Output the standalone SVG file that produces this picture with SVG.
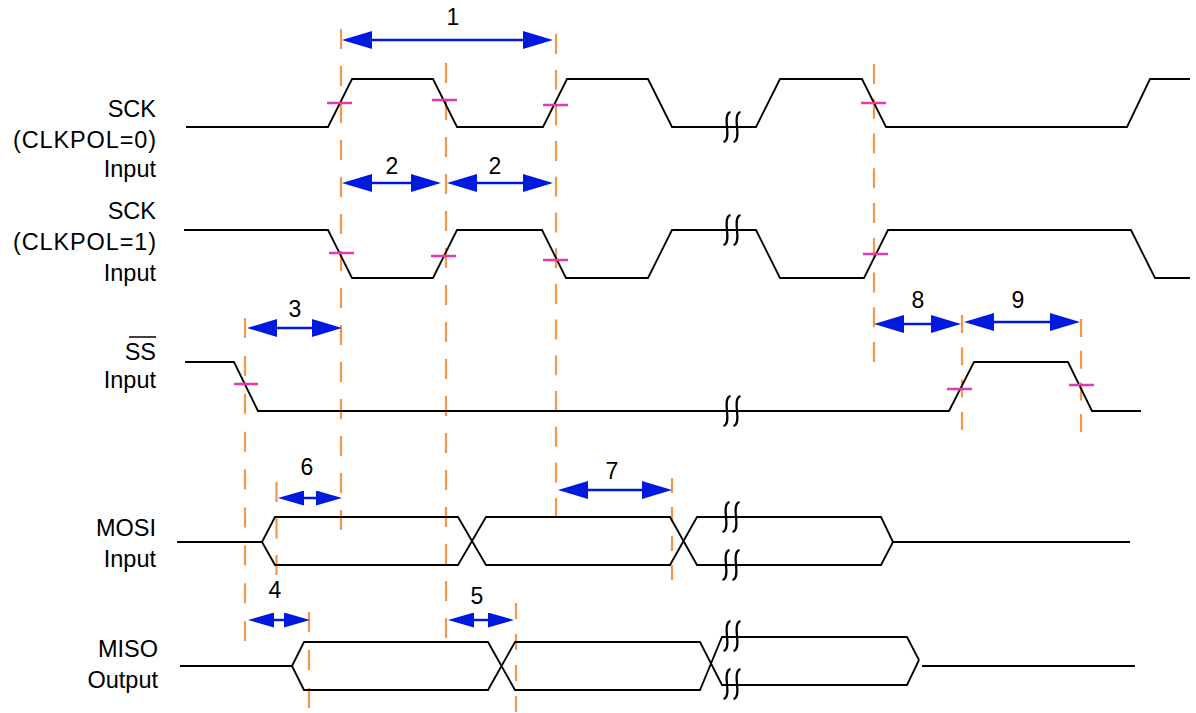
<svg xmlns="http://www.w3.org/2000/svg" width="1196" height="713" viewBox="0 0 1196 713">
<style>
.w{fill:none;stroke:#000;stroke-width:1.8;stroke-linejoin:miter}
.d{stroke:#F79646;stroke-width:2.2;fill:none}
.t{stroke:#E23AAE;stroke-width:2.5}
.a{stroke:#0019E0;stroke-width:2.5;marker-start:url(#ah);marker-end:url(#ah)}
.s{stroke:#0019E0;stroke-width:2.5;marker-start:url(#as);marker-end:url(#as)}
.brk{fill:none;stroke:#000;stroke-width:2.2}
.lbl{font-family:"Liberation Sans",Arial,Helvetica,sans-serif;font-size:23.5px;fill:#000;text-anchor:end}
.num{font-family:"Liberation Sans",Arial,Helvetica,sans-serif;font-size:23px;fill:#000;text-anchor:middle}
</style>
<defs>
<marker id="ah" viewBox="0 0 30 18" refX="10" refY="9" markerWidth="30" markerHeight="18" markerUnits="userSpaceOnUse" orient="auto-start-reverse"><path d="M0,0 L30,9 L0,18 z" fill="#0019E0"/></marker>
<marker id="as" viewBox="0 0 26 15" refX="10" refY="7.5" markerWidth="26" markerHeight="15" markerUnits="userSpaceOnUse" orient="auto-start-reverse"><path d="M0,0 L26,7.5 L0,15 z" fill="#0019E0"/></marker>
<path id="bk" class="brk" d="M3.5,-15 C-1.5,-14 -0.5,-5 0,0 C0.5,5 1.5,14 -3.5,15"/>
</defs>

<g id="labels">
<text class="lbl" x="156" y="117">SCK</text>
<text class="lbl" x="156" y="148" textLength="143" lengthAdjust="spacing">(CLKPOL=0)</text>
<text class="lbl" x="156" y="177">Input</text>
<text class="lbl" x="156" y="219">SCK</text>
<text class="lbl" x="156" y="250" textLength="143" lengthAdjust="spacing">(CLKPOL=1)</text>
<text class="lbl" x="156" y="281">Input</text>
<text class="lbl" x="156" y="360">SS</text>
<line x1="129" y1="337" x2="156" y2="337" stroke="#000" stroke-width="1.5"/>
<text class="lbl" x="156" y="388">Input</text>
<text class="lbl" x="156" y="536">MOSI</text>
<text class="lbl" x="156" y="567">Input</text>
<text class="lbl" x="158" y="657">MISO</text>
<text class="lbl" x="158" y="688">Output</text>
</g>

<g id="guides">
<line class="d" stroke-dasharray="20 17" x1="341" y1="29" x2="341" y2="530"/>
<line class="d" stroke-dasharray="20 17" x1="446" y1="63" x2="446" y2="638"/>
<line class="d" stroke-dasharray="20 15.7" x1="556" y1="34" x2="556" y2="518"/>
<line class="d" stroke-dasharray="20 14.75" x1="874" y1="64" x2="874" y2="362"/>
<line class="d" stroke-dasharray="20 17.9" x1="245" y1="318" x2="245" y2="641"/>
<line class="d" stroke-dasharray="18 14.3" x1="962" y1="315" x2="962" y2="430"/>
<line class="d" stroke-dasharray="18 13.7" x1="1081" y1="319" x2="1081" y2="432"/>
<line class="d" stroke-dasharray="20 16.5" x1="276.5" y1="482" x2="276.5" y2="575"/>
<line class="d" stroke-dasharray="15 14" x1="672" y1="478" x2="672" y2="580"/>
<line class="d" stroke-dasharray="20 18" x1="309" y1="612" x2="309" y2="708"/>
<line class="d" stroke-dasharray="16 15" x1="516" y1="603" x2="516" y2="712"/>
</g>

<g id="sck0">
<path class="w" d="M186,127 H328 L352,79 H433 L457,127 H543 L567,79 H648 L672,127 H756 L780,79 H862 L886,127 H1127 L1150,79 H1190"/>
<use href="#bk" x="727" y="127"/><use href="#bk" x="737" y="127"/>
<line class="t" x1="327" y1="103" x2="352" y2="103"/>
<line class="t" x1="432" y1="100" x2="457" y2="100"/>
<line class="t" x1="543" y1="105" x2="568" y2="105"/>
<line class="t" x1="861" y1="103" x2="886" y2="103"/>
</g>

<g id="sck1">
<path class="w" d="M184,230 H328 L352,278 H433 L457,230 H542 L566,278 H648 L672,230 H756 L780,278 H864 L888,230 H1131 L1155,278 H1190"/>
<use href="#bk" x="727" y="230"/><use href="#bk" x="737" y="230"/>
<line class="t" x1="329" y1="253" x2="354" y2="253"/>
<line class="t" x1="431" y1="256" x2="456" y2="256"/>
<line class="t" x1="543" y1="260" x2="568" y2="260"/>
<line class="t" x1="863" y1="254" x2="888" y2="254"/>
</g>

<g id="ss">
<path class="w" d="M185,362 H234 L258,411 H949 L974,362 H1068 L1092,411 H1141"/>
<use href="#bk" x="727" y="411"/><use href="#bk" x="737" y="411"/>
<line class="t" x1="234" y1="384" x2="258" y2="384"/>
<line class="t" x1="947" y1="389" x2="972" y2="389"/>
<line class="t" x1="1069" y1="385" x2="1094" y2="385"/>
</g>

<g id="mosi">
<path class="w" d="M177,542 H262 L275,517 H458 L486,565 H670 L697,517 H881 L893,542 H1130"/>
<path class="w" d="M262,542 L275,565 H458 L486,517 H670 L697,565 H881 L893,542"/>
<use href="#bk" x="726" y="517"/><use href="#bk" x="736" y="517"/>
<use href="#bk" x="726" y="565"/><use href="#bk" x="736" y="565"/>
</g>

<g id="miso">
<path class="w" d="M180,666 H292 L304,642 H488 L515,690 H700 L722,637 H907 L919,660"/>
<path class="w" d="M292,666 L304,690 H488 L515,642 H700 L722,685 H907 L919,660"/>
<path class="w" d="M922,666 H1135"/>
<use href="#bk" x="727" y="636"/><use href="#bk" x="737" y="636"/>
<use href="#bk" x="727" y="684"/><use href="#bk" x="737" y="684"/>
</g>

<g id="connectors">
<line class="a" x1="362" y1="40" x2="533" y2="40"/>
<line class="a" x1="362" y1="183" x2="421" y2="183"/>
<line class="a" x1="467" y1="183" x2="533" y2="183"/>
<line class="a" x1="267" y1="328" x2="322" y2="328"/>
<line class="a" x1="894" y1="324" x2="941" y2="324"/>
<line class="a" x1="984" y1="322" x2="1060" y2="322"/>
<line class="s" x1="294" y1="498" x2="326" y2="498"/>
<line class="a" x1="578" y1="490" x2="652" y2="490"/>
<line class="s" x1="264" y1="620" x2="294" y2="620"/>
<line class="s" x1="464" y1="620" x2="498" y2="620"/>
</g>

<g id="numbers">
<text class="num" x="453" y="25">1</text>
<text class="num" x="392" y="174">2</text>
<text class="num" x="495" y="174">2</text>
<text class="num" x="295" y="317">3</text>
<text class="num" x="918" y="308">8</text>
<text class="num" x="1018" y="308">9</text>
<text class="num" x="307" y="475">6</text>
<text class="num" x="612" y="479">7</text>
<text class="num" x="275" y="598">4</text>
<text class="num" x="477" y="604">5</text>
</g>
</svg>
